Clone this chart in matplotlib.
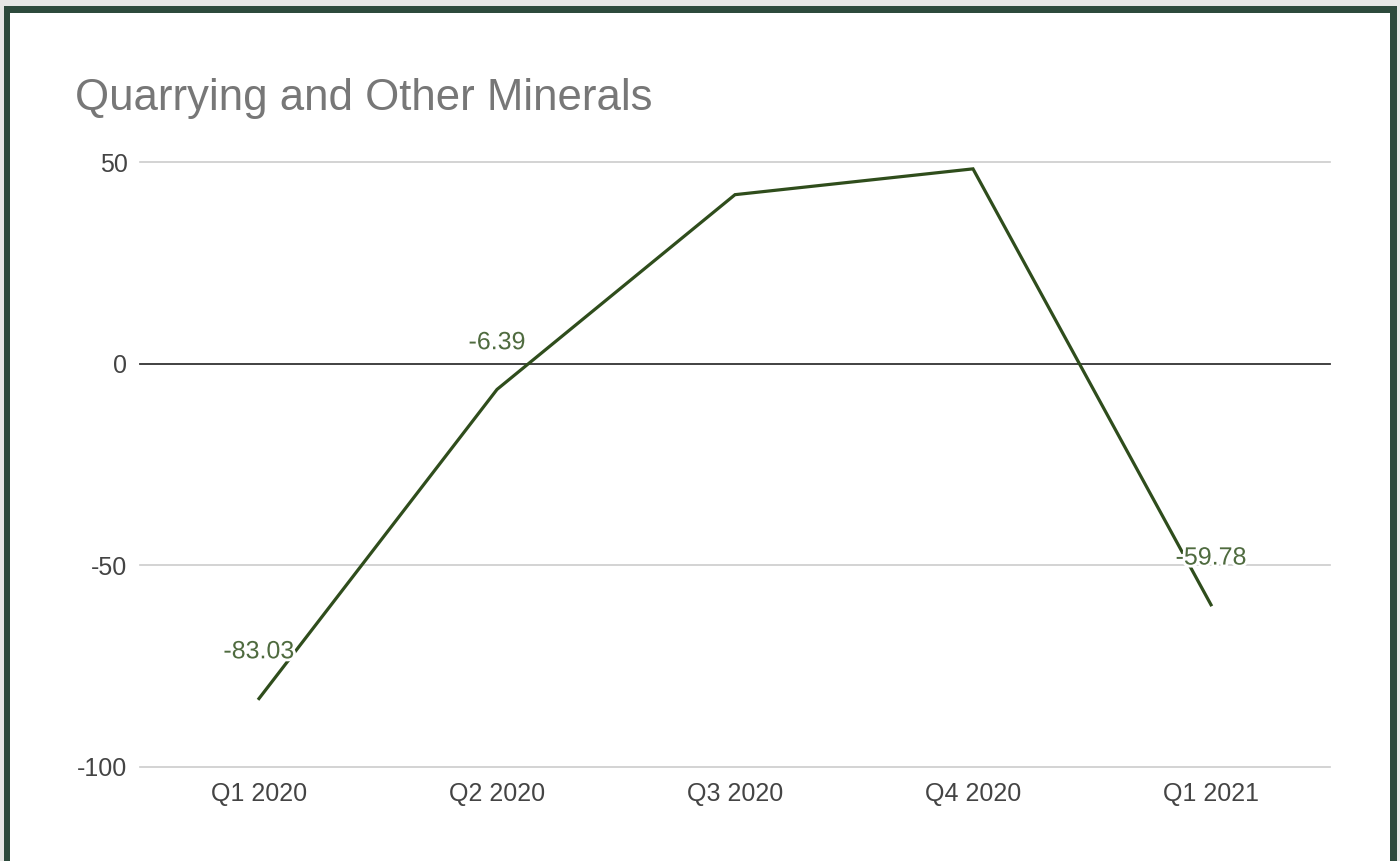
import matplotlib
matplotlib.use("Agg")
import matplotlib.pyplot as plt
import matplotlib.patheffects as pe
from matplotlib.patches import Rectangle

# chart data
quarters = ["Q1 2020", "Q2 2020", "Q3 2020", "Q4 2020", "Q1 2021"]
values = [-83.03, -6.39, 41.9, 48.3, -59.78]
labelled = [0, 1, 4]  # points that carry a data label
y_ticks = [-100, -50, 0, 50]

title = "Quarrying and Other Minerals"
line_color = "#2f4d1c"
label_color = "#4f6b3f"
border_color = "#2d4a3c"

plt.rcParams["font.family"] = ["Liberation Sans", "DejaVu Sans"]

fig = plt.figure(figsize=(14, 8.61), dpi=100, facecolor="white")

# outer frame: light gray edge strip + dark green border (no bottom edge)
W, H = 1400, 861
def px_rect(x0, y0, x1, y1, color):
    fig.patches.append(Rectangle((x0 / W, 1 - y1 / H), (x1 - x0) / W, (y1 - y0) / H,
                                 transform=fig.transFigure, facecolor=color,
                                 edgecolor="none", zorder=0))
px_rect(0, 0, W, 6, "#e6e7e5")
px_rect(0, 0, 4, H, "#e6e7e5")
px_rect(1397, 0, W, H, "#e6e7e5")
px_rect(4, 6, 1397, 13, border_color)
px_rect(4, 6, 10, H, border_color)
px_rect(1390, 6, 1397, H, border_color)

ax = fig.add_axes([140 / W, 1 - 767 / H, (1330 - 140) / W, (767 - 162) / H])
ax.set_facecolor("white")

x = list(range(len(quarters)))
ax.plot(x, values, color=line_color, linewidth=2.3, zorder=3, solid_joinstyle="miter")

for i in labelled:
    ax.annotate(f"{values[i]:.2f}", (x[i], values[i]), xytext=(0, 34),
                textcoords="offset points", ha="center", va="center",
                fontsize=18, color=label_color, zorder=4,
                path_effects=[pe.withStroke(linewidth=4, foreground="white")])

ax.set_xlim(-0.5, len(quarters) - 0.5)
ax.set_ylim(-100, 50)
ax.set_xticks(x)
ax.set_xticklabels(quarters)
ax.set_yticks(y_ticks)
ax.set_yticklabels([str(v) for v in y_ticks])

for v in y_ticks:
    if v == 0:
        ax.axhline(v, color="#333333", linewidth=1.3, zorder=2, clip_on=False)
    else:
        ax.axhline(v, color="#cccccc", linewidth=1.2, zorder=1, clip_on=False)

for s in ax.spines.values():
    s.set_visible(False)
ax.tick_params(axis="both", length=0, labelsize=18, labelcolor="#444444")
ax.tick_params(axis="y", pad=9)
ax.tick_params(axis="x", pad=11)

fig.text(75 / W, 1 - 110 / H, title, fontsize=31.5, color="#777777",
         ha="left", va="baseline")

fig.savefig("out.png", dpi=100, facecolor="white")
